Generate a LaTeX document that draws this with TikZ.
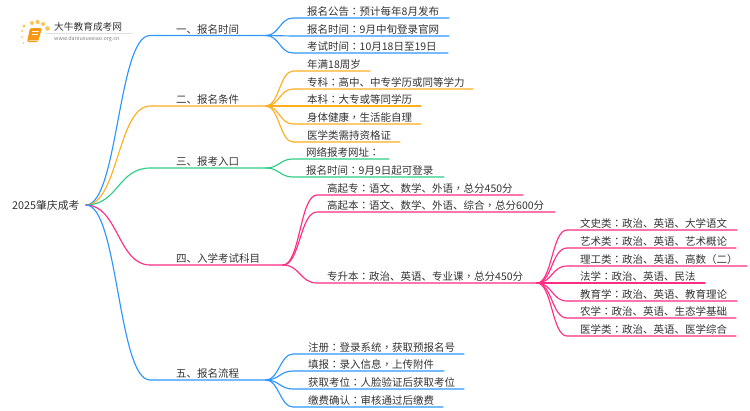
\documentclass[tikz,border=0pt]{standalone}
\usepackage{fontspec}
\setmainfont{Noto Sans CJK SC}
\newfontfamily\tcfont{Noto Sans CJK TC}
\newcommand{\zhcolon}{{\tcfont ：}}
\newcommand{\zhcomma}{{\tcfont ，}}
\newcommand{\zhopen}{{\tcfont （}}
\newcommand{\zhclose}{{\tcfont ）}}
\definecolor{lineblue}{HTML}{2E96FF}
\definecolor{lineorange}{HTML}{FFAE1F}
\definecolor{linegreen}{HTML}{2ECC87}
\definecolor{linepink}{HTML}{FF2D83}
\definecolor{txtgrey}{HTML}{333333}
\definecolor{bookorange}{HTML}{F59A16}
\definecolor{dotyellow}{HTML}{FFC44F}
\tikzset{
  label/.style={anchor=base west, inner sep=0pt, text=txtgrey, font=\fontsize{10.5}{12}\selectfont},
  wire/.style={line width=1.15pt, line cap=round},
  fan/.style={wire, to path={.. controls ([xshift=#1]\tikztostart) and ([xshift=-#1]\tikztotarget) .. (\tikztotarget)}}
}
\begin{document}
\begin{tikzpicture}[x=1pt, y=-1pt]
    \useasboundingbox (0, 0) rectangle (750, 410);

    % Logo
    \foreach \i/\x/\y/\r in {1/22/31/1.1, 2/24/26/1.6, 3/32/23/2, 4/37.5/22/2.1, 5/43/24/2, 6/47.5/28.5/2.3, 7/22/37/1, 8/23.5/43/.9} {
      \path (\x, \y) coordinate (s\i);
      \fill [dotyellow] (s\i) circle (\r);
    }
    \fill [bookorange, rounded corners=1.5pt] (30, 28) -- (42, 28) -- (38, 42) -- (27, 42) -- cycle;
    \draw [white!85!bookorange, line width=.7pt] (32, 31.5) -- (38.5, 31.5) (31.5, 34.5) -- (37.5, 34.5);
    \draw [white!60!bookorange, line width=.5pt] (28.5, 40) -- (37.5, 40);
    \draw [black!12, line width=.5pt] (46, 33.5) -- (132, 33.5);
    \node [label, font=\fontsize{9.7}{12}\selectfont] (logotitle) at (54, 30.5) {大牛教育成考网};
    \node [label, font=\fontsize{5.4}{6}\selectfont, text=gray] (logourl) at (54, 40.5) {www.daniuxuexiao.org.cn};

    % Root
    \node [label, font=\fontsize{10.8}{12}\selectfont] (root) at (12, 209) {2025肇庆成考};
    \path (86, 205) coordinate (r);

    % Branches
    \foreach \i/\y/\e/\c/\t in {1/35.5/266/lineblue/一、报名时间, 2/106/266/lineorange/二、报名条件, 3/168/266/linegreen/三、报考入口, 4/265/283/linepink/四、入学考试科目, 5/380/266/lineblue/五、报名流程} {
      \path (150, \y) coordinate (b\i);
      \path (\e, \y) coordinate (f\i);
      \node [label] (bt\i) at (176, \y-2.5) {\t};
      \draw [wire, \c] (r) to [fan=32] (b\i) -- (f\i);
    }

    % Leaves of the first branch
    \foreach \i/\y/\e/\t in {1/18/449/报名公告\zhcolon 预计每年8月发布, 2/36/449/报名时间\zhcolon 9月中旬登录官网, 3/53/448/考试时间\zhcolon 10月18日至19日} {
      \path (293, \y) coordinate (pa\i);
      \path (\e, \y) coordinate (qa\i);
      \node [label] (ta\i) at (307, \y-2.5) {\t};
      \draw [wire, lineblue] (f1) to [fan=13] (pa\i) -- (qa\i);
    }

    % Leaves of the second branch
    \foreach \i/\y/\e/\t in {1/71/370/年满18周岁, 2/89/473/专科\zhcolon 高中、中专学历或同等学力, 3/106/421/本科\zhcolon 大专或等同学历, 4/124/421/身体健康\zhcomma 生活能自理, 5/142/400/医学类需持资格证} {
      \path (293, \y) coordinate (pb\i);
      \path (\e, \y) coordinate (qb\i);
      \node [label] (tb\i) at (307, \y-2.5) {\t};
      \draw [wire, lineorange] (f2) to [fan=13] (pb\i) -- (qb\i);
    }

    % Leaves of the third branch
    \foreach \i/\y/\e/\t in {1/159/389/网络报考网址\zhcolon, 2/177/444/报名时间\zhcolon 9月9日起可登录} {
      \path (293, \y) coordinate (pc\i);
      \path (\e, \y) coordinate (qc\i);
      \node [label] (tc\i) at (306, \y-2.5) {\t};
      \draw [wire, linegreen] (f3) to [fan=13] (pc\i) -- (qc\i);
    }

    % Leaves of the fourth branch
    \foreach \i/\y/\e/\t in {1/195/523/高起专\zhcolon 语文、数学、外语\zhcomma 总分450分, 2/212/555/高起本\zhcolon 语文、数学、外语、综合\zhcomma 总分600分, 3/283/537/专升本\zhcolon 政治、英语、专业课\zhcomma 总分450分} {
      \path (317, \y) coordinate (pd\i);
      \path (\e, \y) coordinate (qd\i);
      \node [label] (td\i) at (327, \y-2.5) {\t};
      \draw [wire, linepink] (f4) to [fan=17] (pd\i) -- (qd\i);
    }

    % Subjects under the last one
    \foreach \i/\y/\e/\t in {1/230/737/文史类\zhcolon 政治、英语、大学语文, 2/248/736/艺术类\zhcolon 政治、英语、艺术概论, 3/266/747/理工类\zhcolon 政治、英语、高数\zhopen 二\zhclose, 4/283/705/法学\zhcolon 政治、英语、民法, 5/301/737/教育学\zhcolon 政治、英语、教育理论, 6/318/736/农学\zhcolon 政治、英语、生态学基础, 7/336/736/医学类\zhcolon 政治、英语、医学综合} {
      \path (567, \y) coordinate (pe\i);
      \path (\e, \y) coordinate (qe\i);
      \node [label] (te\i) at (580, \y-2.5) {\t};
      \draw [wire, linepink] (qd3) to [fan=15] (pe\i) -- (qe\i);
    }

    % Leaves of the fifth branch
    \foreach \i/\y/\e/\t in {1/354/464/注册\zhcolon 登录系统\zhcomma 获取预报名号, 2/371/444/填报\zhcolon 录入信息\zhcomma 上传附件, 3/389/464/获取考位\zhcolon 人脸验证后获取考位, 4/407/443/缴费确认\zhcolon 审核通过后缴费} {
      \path (293, \y) coordinate (pf\i);
      \path (\e, \y) coordinate (qf\i);
      \node [label] (tf\i) at (308, \y-2.5) {\t};
      \draw [wire, lineblue] (f5) to [fan=13] (pf\i) -- (qf\i);
    }
\end{tikzpicture}
\end{document}
